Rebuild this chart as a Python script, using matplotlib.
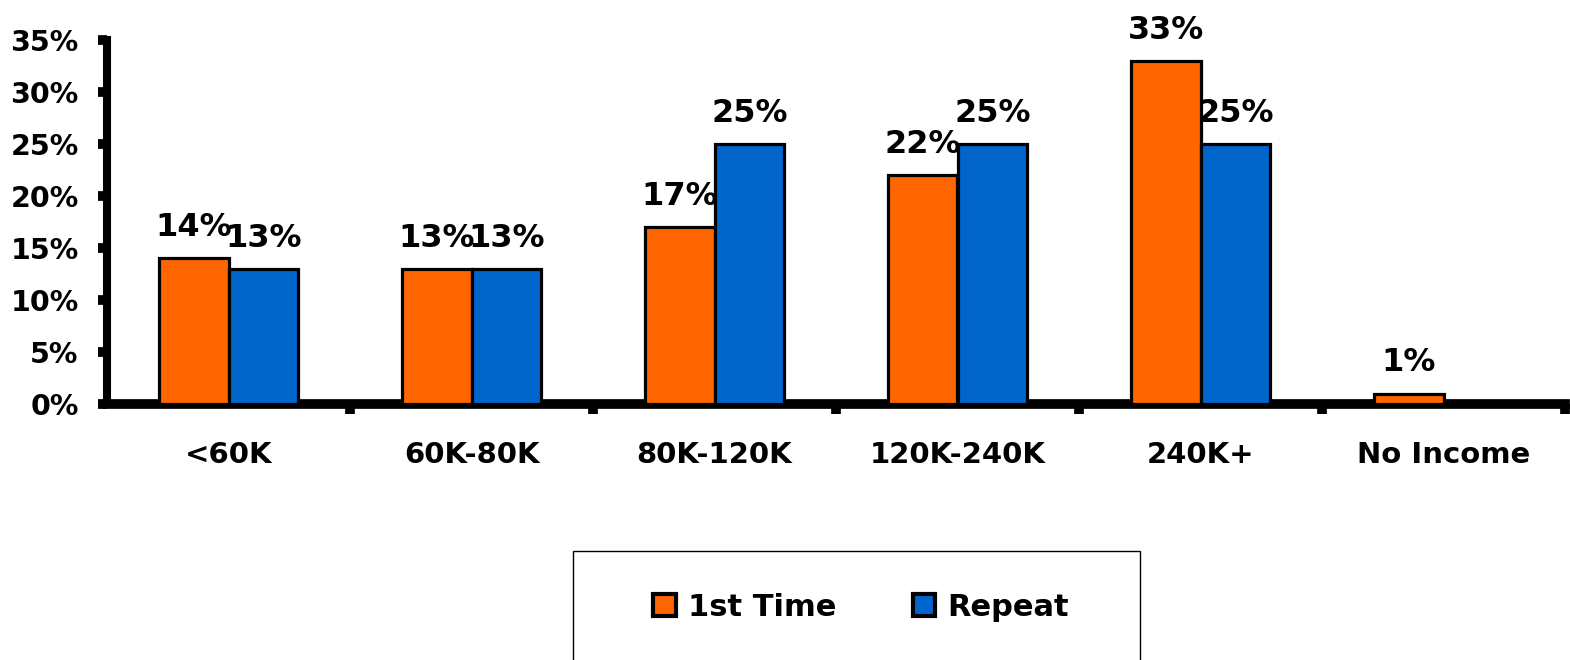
import matplotlib
matplotlib.use("Agg")
import matplotlib.pyplot as plt
from matplotlib.patches import Patch, Rectangle
from matplotlib.ticker import FixedLocator, FuncFormatter
import numpy as np

categories = ["<60K", "60K-80K", "80K-120K", "120K-240K", "240K+", "No Income"]
first_time = [14, 13, 17, 22, 33, 1]
repeat = [13, 13, 25, 25, 25, 0]
series_names = ["1st Time", "Repeat"]
colors = ["#FF6600", "#0066CC"]
yticks = [0, 5, 10, 15, 20, 25, 30, 35]

plt.rcParams['font.family'] = ['DejaVu Sans']
plt.rcParams['font.weight'] = 'bold'

fig = plt.figure(figsize=(15.7, 6.6), dpi=100)
ax = fig.add_axes([107/1570, 1-404/660, (1565-107)/1570, (404-40)/660])

x = np.arange(len(categories))
w = 0.288
off = 0.144
ax.bar(x - off, first_time, w, color=colors[0], edgecolor='black', linewidth=2.3, zorder=3)
b2_vals = [v if v > 0 else np.nan for v in repeat]
ax.bar(x + off, b2_vals, w, color=colors[1], edgecolor='black', linewidth=2.3, zorder=3)

for xi, v in zip(x, first_time):
    ax.annotate(f"{v}%", (xi - off, v), xytext=(0, 11), textcoords='offset points',
                ha='center', va='bottom', fontsize=23, fontweight='bold')
for xi, v in zip(x, repeat):
    if v > 0:
        ax.annotate(f"{v}%", (xi + off, v), xytext=(0, 11), textcoords='offset points',
                    ha='center', va='bottom', fontsize=23, fontweight='bold')

ax.set_xlim(-0.5, len(categories) - 0.5)
ax.set_ylim(0, 35)
ax.set_yticks(yticks)
ax.yaxis.set_major_formatter(FuncFormatter(lambda v, p: f"{int(v)}%"))
ax.tick_params(axis='y', direction='out', length=6.5, width=7, pad=14, labelsize=20.5)
for lab in ax.get_yticklabels():
    lab.set_fontweight('bold')

ax.set_xticks(x)
ax.set_xticklabels(categories, fontsize=21, fontweight='bold')
ax.tick_params(axis='x', which='major', length=0, pad=27)
ax.xaxis.set_minor_locator(FixedLocator(np.arange(0.5, len(categories), 1.0)))
ax.tick_params(axis='x', which='minor', direction='out', length=7, width=7)

for s in ['top', 'right']:
    ax.spines[s].set_visible(False)
ax.spines['left'].set_linewidth(5.8)
ax.spines['bottom'].set_linewidth(7)
ax.spines['left'].set_capstyle('projecting')

# legend box
fig.patches.append(Rectangle((573/1570, 1-665/660), (1140-573)/1570, (665-551)/660,
                             transform=fig.transFigure, fill=False, edgecolor='black',
                             linewidth=1.0))
handles = [Patch(facecolor=c, edgecolor='black', linewidth=3) for c in colors]
fig.legend(handles, series_names, loc='center', bbox_to_anchor=(861/1570, 1-607/660),
           ncol=2, frameon=False, prop={'size': 22, 'weight': 'bold'},
           handlelength=0.75, handleheight=0.75, handletextpad=0.4, columnspacing=2.5)

fig.savefig("out.png", dpi=100)
